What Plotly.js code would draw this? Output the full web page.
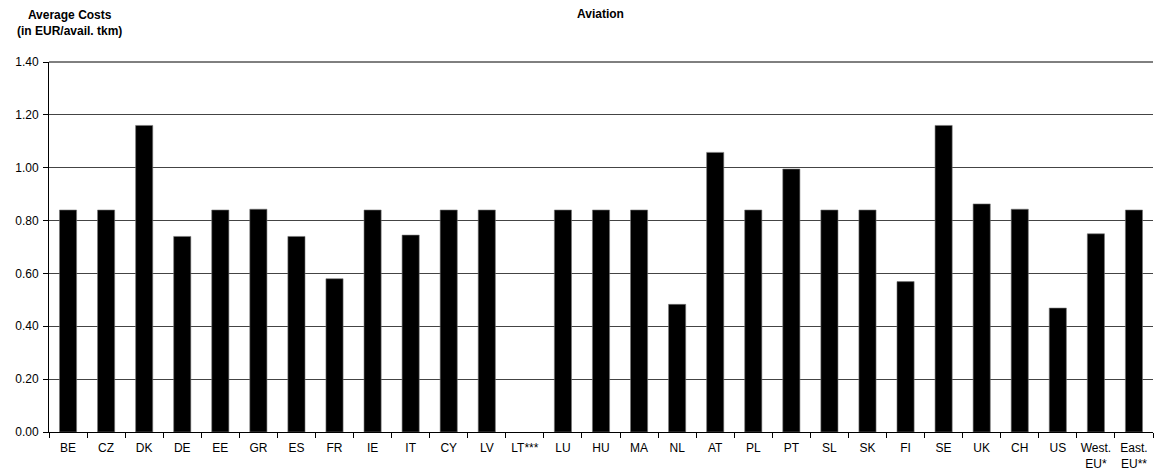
<!DOCTYPE html>
<html>
<head>
<meta charset="utf-8">
<script src="https://cdn.plot.ly/plotly-3.0.1.min.js"></script>
<style>html,body{margin:0;padding:0;background:#fff;}#chart{width:1157px;height:474px;}</style>
</head>
<body>
<div id="chart"></div>
<script>
const categories = ["BE","CZ","DK","DE","EE","GR","ES","FR","IE","IT","CY","LV","LT***","LU","HU","MA","NL","AT","PL","PT","SL","SK","FI","SE","UK","CH","US","West.<br>EU*","East.<br>EU**"];
const avgCosts = [0.84,0.84,1.16,0.74,0.84,0.843,0.74,0.58,0.84,0.745,0.84,0.84,null,0.84,0.84,0.84,0.483,1.058,0.84,0.995,0.84,0.84,0.569,1.16,0.863,0.843,0.469,0.75,0.84];
const yTicks = [0,0.2,0.4,0.6,0.8,1.0,1.2,1.4];

const font = {family: "Liberation Sans, Arial, sans-serif", color: "#000"};

Plotly.newPlot("chart", [{
  type: "bar",
  x: categories,
  y: avgCosts,
  marker: {color: "#000", line: {color: "#777", width: 0.6}},
  hoverinfo: "x+y"
}], {
  width: 1157, height: 474,
  margin: {l: 49, r: 4, t: 62, b: 42},
  paper_bgcolor: "#fff", plot_bgcolor: "#fff",
  bargap: 0.55,
  showlegend: false,
  font: Object.assign({size: 12}, font),
  title: {text: "<b>Aviation</b>", font: Object.assign({size: 12}, font), x: 0.519, xanchor: "center", y: 0.98, yanchor: "top"},
  xaxis: {
    type: "category",
    showline: true, linecolor: "#000", linewidth: 1,
    ticks: "outside", ticklen: 5, tickcolor: "#000", tickson: "boundaries",
    tickangle: 0,
    ticklabelstandoff: 5,
    showgrid: false, zeroline: false,
    tickfont: Object.assign({size: 12}, font),
    range: [-0.5, categories.length - 0.5]
  },
  yaxis: {
    range: [0, 1.4],
    tickvals: yTicks,
    tickformat: ".2f",
    showline: true, linecolor: "#000", linewidth: 1,
    ticks: "outside", ticklen: 5, tickcolor: "#000",
    ticklabelstandoff: 2,
    showgrid: true, gridcolor: "#444", gridwidth: 1,
    zeroline: false,
    tickfont: Object.assign({size: 12}, font)
  },
  shapes: [{
    type: "line", xref: "paper", yref: "paper", x0: 0, x1: 1, y0: 1, y1: 1,
    line: {color: "#000", width: 1}
  }],
  annotations: [{
    text: "<b>Average Costs<br>(in EUR/avail. tkm)</b>",
    xref: "paper", yref: "paper", x: 0.019, y: 1.105, xanchor: "center", yanchor: "middle",
    align: "center", showarrow: false,
    font: Object.assign({size: 12}, font)
  }]
}, {displayModeBar: false});
</script>
</body>
</html>
